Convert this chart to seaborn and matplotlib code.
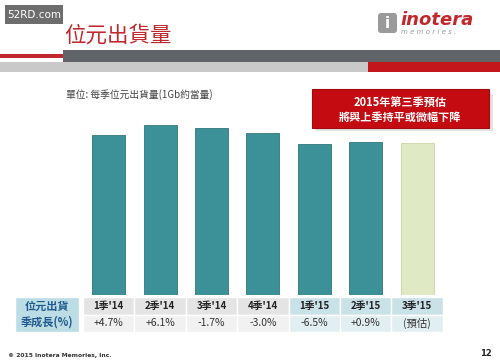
import matplotlib
matplotlib.use("Agg")
from matplotlib import pyplot as plt
from matplotlib.patches import Rectangle, FancyBboxPatch
import seaborn as sns

# data (index, 1Q14 = 100)
quarters = ["1季'14", "2季'14", "3季'14", "4季'14", "1季'15", "2季'15", "3季'15"]
volume = [100, 106.1, 104.3, 101.2, 94.6, 95.4, 95.0]
growth = ["+4.7%", "+6.1%", "-1.7%", "-3.0%", "-6.5%", "+0.9%", "(預估)"]
bar_colors = ["#3c9097"] * 6 + ["#dfe9c3"]

sns.set_theme(style="white")
plt.rcParams['font.family'] = ['Noto Sans CJK TC', 'DejaVu Sans']

W, H = 500, 363
fig = plt.figure(figsize=(5, 3.63), dpi=100)
fig.patch.set_facecolor("white")

# overlay in pixel coords for the slide decoration
deco = fig.add_axes([0, 0, 1, 1], zorder=0)
deco.set_xlim(0, W)
deco.set_ylim(H, 0)
deco.axis("off")

# header bands
deco.add_patch(Rectangle((63, 50), W - 63, 12, color="#606367", lw=0))
deco.add_patch(Rectangle((0, 54), 63, 4, color="#c0282d", lw=0))
deco.add_patch(Rectangle((0, 62), 368, 10, color="#c9c9c9", lw=0))
deco.add_patch(Rectangle((368, 62), W - 368, 10, color="#c3161c", lw=0))

# watermark
deco.add_patch(Rectangle((5, 5), 58, 19, color="#6d6d6d", lw=0))
deco.text(34, 15, "52RD.com", color="white", fontsize=7.5, ha="center", va="center",
          family="DejaVu Sans")

deco.text(64, 36, "位元出貨量", color="#c0282d", fontsize=15.5, va="center", ha="left")

# logo
deco.add_patch(FancyBboxPatch((378, 13), 19, 20, boxstyle="round,pad=0,rounding_size=3",
                              color="#9a9a9a", lw=0))
deco.text(387.5, 23, "i", color="white", fontsize=11, fontweight="bold", ha="center",
          va="center", family="DejaVu Sans")
deco.text(400, 20, "inotera", color="#c0282d", fontsize=13, fontweight="bold",
          style="italic", ha="left", va="center", family="DejaVu Sans")
deco.text(401, 32, "m e m o r i e s .", color="#9a9a9a", fontsize=5, style="italic",
          ha="left", va="center", family="DejaVu Sans")

deco.text(66, 95, "單位: 每季位元出貨量(1Gb約當量)", color="#444444", fontsize=7,
          ha="left", va="center")

# red call-out box with shadow
deco.add_patch(Rectangle((316, 94), 177, 37, color="#e4e4e4", lw=0))
deco.add_patch(Rectangle((312, 89), 177, 39, facecolor="#c40b12", edgecolor="#9e0a0e", lw=0.8))
deco.text(400, 102, "2015年第三季預估", color="white", fontsize=8, fontweight="bold",
          ha="center", va="center")
deco.text(400, 117, "將與上季持平或微幅下降", color="white", fontsize=8, fontweight="bold",
          ha="center", va="center")

# table under the bars
x0, cw = 83, 51.4
deco.add_patch(Rectangle((15, 297), 64, 35, facecolor="#bcdde6", edgecolor="white", lw=1))
deco.text(47, 306, "位元出貨", color="#1f5a8c", fontsize=8, fontweight="bold",
          ha="center", va="center")
deco.text(47, 322, "季成長(%)", color="#1f5a8c", fontsize=8, fontweight="bold",
          ha="center", va="center")
for i, (q, g) in enumerate(zip(quarters, growth)):
    left = x0 + i * cw
    head_c = "#e4e4e4" if i < 4 else "#c9e2e8"
    row_c = "#f1f1f1" if i < 4 else "#e2eff2"
    deco.add_patch(Rectangle((left, 297), cw, 18, facecolor=head_c, edgecolor="white", lw=1))
    deco.add_patch(Rectangle((left, 315), cw, 17, facecolor=row_c, edgecolor="white", lw=1))
    deco.text(left + cw / 2, 306.5, q, color="#222222", fontsize=7, fontweight="bold",
              ha="center", va="center")
    deco.text(left + cw / 2, 323.5, g, color="#333333", fontsize=7.5,
              ha="center", va="center")

deco.text(8, 356, "© 2015 Inotera Memories, Inc.", color="#333333", fontsize=4.3,
          fontweight="bold", ha="left", va="center", family="DejaVu Sans")
deco.text(492, 354, "12", color="#222222", fontsize=6, fontweight="bold",
          ha="right", va="center", family="DejaVu Sans")

# bar chart
top_px, base_px = 115, 295
ax = fig.add_axes([x0 / W, 1 - base_px / H, 7 * cw / W, (base_px - top_px) / H], zorder=1)
ax.patch.set_alpha(0)
sns.barplot(x=quarters, y=volume, hue=quarters, palette=bar_colors, legend=False,
            width=0.64, saturation=1, ax=ax, edgecolor="#2f767c", linewidth=0.6)
ax.patches[-1].set_edgecolor("#c9d6a8")
ax.set_ylim(0, (base_px - top_px) / 1.6)
ax.set_xlim(-0.5, 6.5)
ax.axis("off")

fig.savefig("out.png", dpi=100)
